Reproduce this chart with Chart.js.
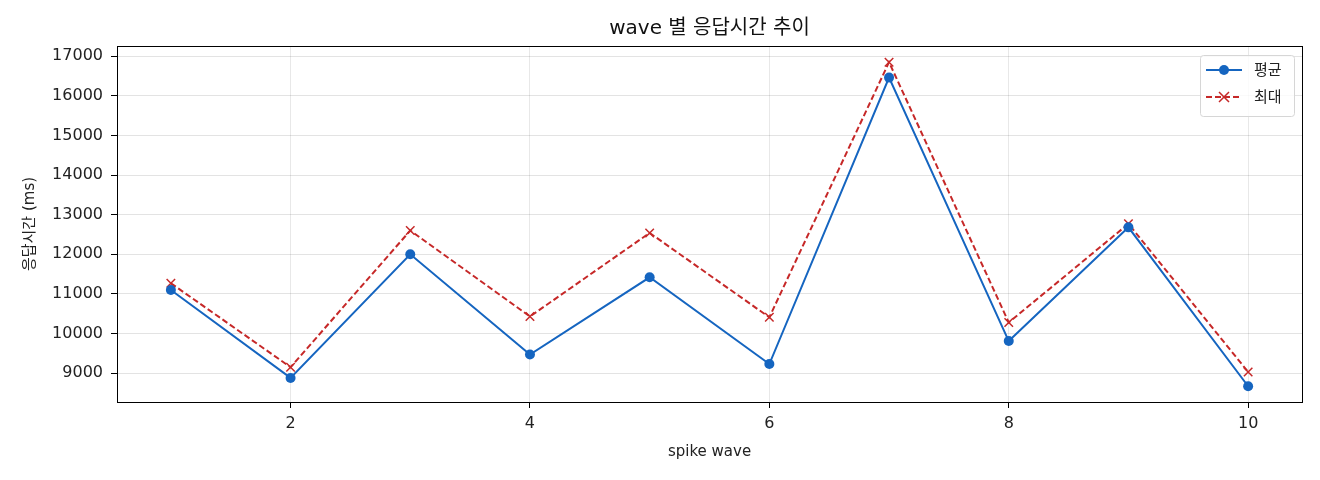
<html>
 <head>
   <meta charset="utf-8" />
   <title>wave 별 응답시간 추이</title>
   <style>
     html, body { margin: 0; padding: 0; background: #fff; }
     #wrap { width: 1320px; height: 480px; }
   </style>
 </head>

 <body>
<div id="wrap">
  <canvas id="ex_chart"></canvas>
</div>

<script src="https://cdn.jsdelivr.net/npm/chart.js"></script>
<script>

// data
waves = [1, 2, 3, 4, 5, 6, 7, 8, 9, 10];
avgMs = [11100, 8880, 12000, 9470, 11420, 9230, 16460, 9810, 12680, 8670];
maxMs = [11270, 9150, 12600, 10430, 12540, 10410, 16850, 10280, 12770, 9030];
xTicks = [2, 4, 6, 8, 10];
yTicks = [9000, 10000, 11000, 12000, 13000, 14000, 15000, 16000, 17000];
seriesNames = ['평균', '최대'];
chartTitle = 'wave 별 응답시간 추이';

const FONT = "'DejaVu Sans', 'Noto Sans CJK KR', sans-serif";
const BLUE = '#1565c0';
const RED = '#c62828';

function pts(ys) {
  return waves.map((w, i) => ({ x: w, y: ys[i] }));
}

// full box around the plot + title centred over the plot (matplotlib style)
const frame = {
  id: 'frame',
  afterDraw(chart) {
    const a = chart.chartArea, c = chart.ctx;
    c.save();
    c.strokeStyle = '#000';
    c.lineWidth = 1;
    c.strokeRect(Math.round(a.left) + 0.5, Math.round(a.top) + 0.5,
                 Math.round(a.right - a.left), Math.round(a.bottom - a.top));
    c.fillStyle = '#111';
    c.font = '20px ' + FONT;
    c.textAlign = 'center';
    c.textBaseline = 'middle';
    c.fillText(chartTitle, (a.left + a.right) / 2, a.top - 17);
    c.restore();
  }
};

// legend box inside the plot, top right
const innerLegend = {
  id: 'innerLegend',
  afterDraw(chart) {
    const a = chart.chartArea, c = chart.ctx;
    const w = 94, h = 61;
    const x0 = a.right - 8 - w, y0 = a.top + 9;
    c.save();
    c.fillStyle = 'rgba(255,255,255,0.8)';
    c.strokeStyle = '#d6d6d6';
    c.lineWidth = 1;
    c.beginPath();
    c.roundRect(x0 + 0.5, y0 + 0.5, w, h, 3);
    c.fill();
    c.stroke();
    chart.data.datasets.forEach((ds, i) => {
      const y = y0 + 15 + i * 27;
      c.strokeStyle = ds.borderColor;
      c.lineWidth = 2;
      c.setLineDash(ds.borderDash || []);
      c.beginPath();
      c.moveTo(x0 + 6, y);
      c.lineTo(x0 + 42, y);
      c.stroke();
      c.setLineDash([]);
      const mx = x0 + 24;
      if (ds.pointStyle === 'crossRot') {
        c.lineWidth = 1.5;
        c.beginPath();
        c.moveTo(mx - 5, y - 5); c.lineTo(mx + 5, y + 5);
        c.moveTo(mx - 5, y + 5); c.lineTo(mx + 5, y - 5);
        c.stroke();
      } else {
        c.fillStyle = ds.backgroundColor;
        c.beginPath();
        c.arc(mx, y, 5, 0, Math.PI * 2);
        c.fill();
      }
      c.fillStyle = '#222';
      c.font = '15px ' + FONT;
      c.textBaseline = 'middle';
      c.fillText(ds.label, x0 + 54, y + 1);
    });
    c.restore();
  }
};

var ctx = document.getElementById('ex_chart');
var ex_chart = new Chart(ctx, {
  type: 'line',
  data: {
    datasets: [{
      label: seriesNames[0],
      data: pts(avgMs),
      borderColor: BLUE,
      backgroundColor: BLUE,
      borderWidth: 2,
      pointStyle: 'circle',
      pointRadius: 5,
      pointBorderWidth: 0,
      tension: 0
    }, {
      label: seriesNames[1],
      data: pts(maxMs),
      borderColor: RED,
      backgroundColor: RED,
      borderWidth: 2,
      borderDash: [6, 3],
      pointStyle: 'crossRot',
      pointRadius: 6,
      pointBorderWidth: 1.5,
      tension: 0
    }]
  },
  options: {
    responsive: true,
    maintainAspectRatio: false,
    animation: false,
    devicePixelRatio: 1,
    layout: { padding: { left: 0, right: 18, top: 46, bottom: 0 } },
    plugins: {
      legend: { display: false },
      tooltip: { enabled: false },
      title: { display: false }
    },
    scales: {
      x: {
        type: 'linear',
        min: 0.55,
        max: 10.45,
        afterBuildTicks: (s) => { s.ticks = xTicks.map(v => ({ value: v })); },
        afterFit: (s) => { s.height = 78; },
        grid: { color: 'rgba(0,0,0,0.09)', tickColor: '#000', tickLength: 6 },
        border: { color: '#000', width: 1 },
        ticks: { color: '#222', font: { family: FONT, size: 16 }, padding: 6, maxRotation: 0 },
        title: { display: true, text: 'spike wave', color: '#222',
                 font: { family: FONT, size: 15 }, padding: { top: 4, bottom: 19 } }
      },
      y: {
        type: 'linear',
        min: 8272,
        max: 17258,
        afterBuildTicks: (s) => { s.ticks = yTicks.map(v => ({ value: v })); },
        afterFit: (s) => { s.width = 117; },
        grid: { color: 'rgba(0,0,0,0.11)', tickColor: '#000', tickLength: 6 },
        border: { color: '#000', width: 1 },
        ticks: { color: '#222', font: { family: FONT, size: 16 }, padding: 8,
                 callback: (v) => String(v) },
        title: { display: true, text: '응답시간 (ms)', color: '#222',
                 font: { family: FONT, size: 15 }, padding: { top: 21, bottom: 4 } }
      }
    }
  },
  plugins: [frame, innerLegend]
});

</script>
</body>
</html>
